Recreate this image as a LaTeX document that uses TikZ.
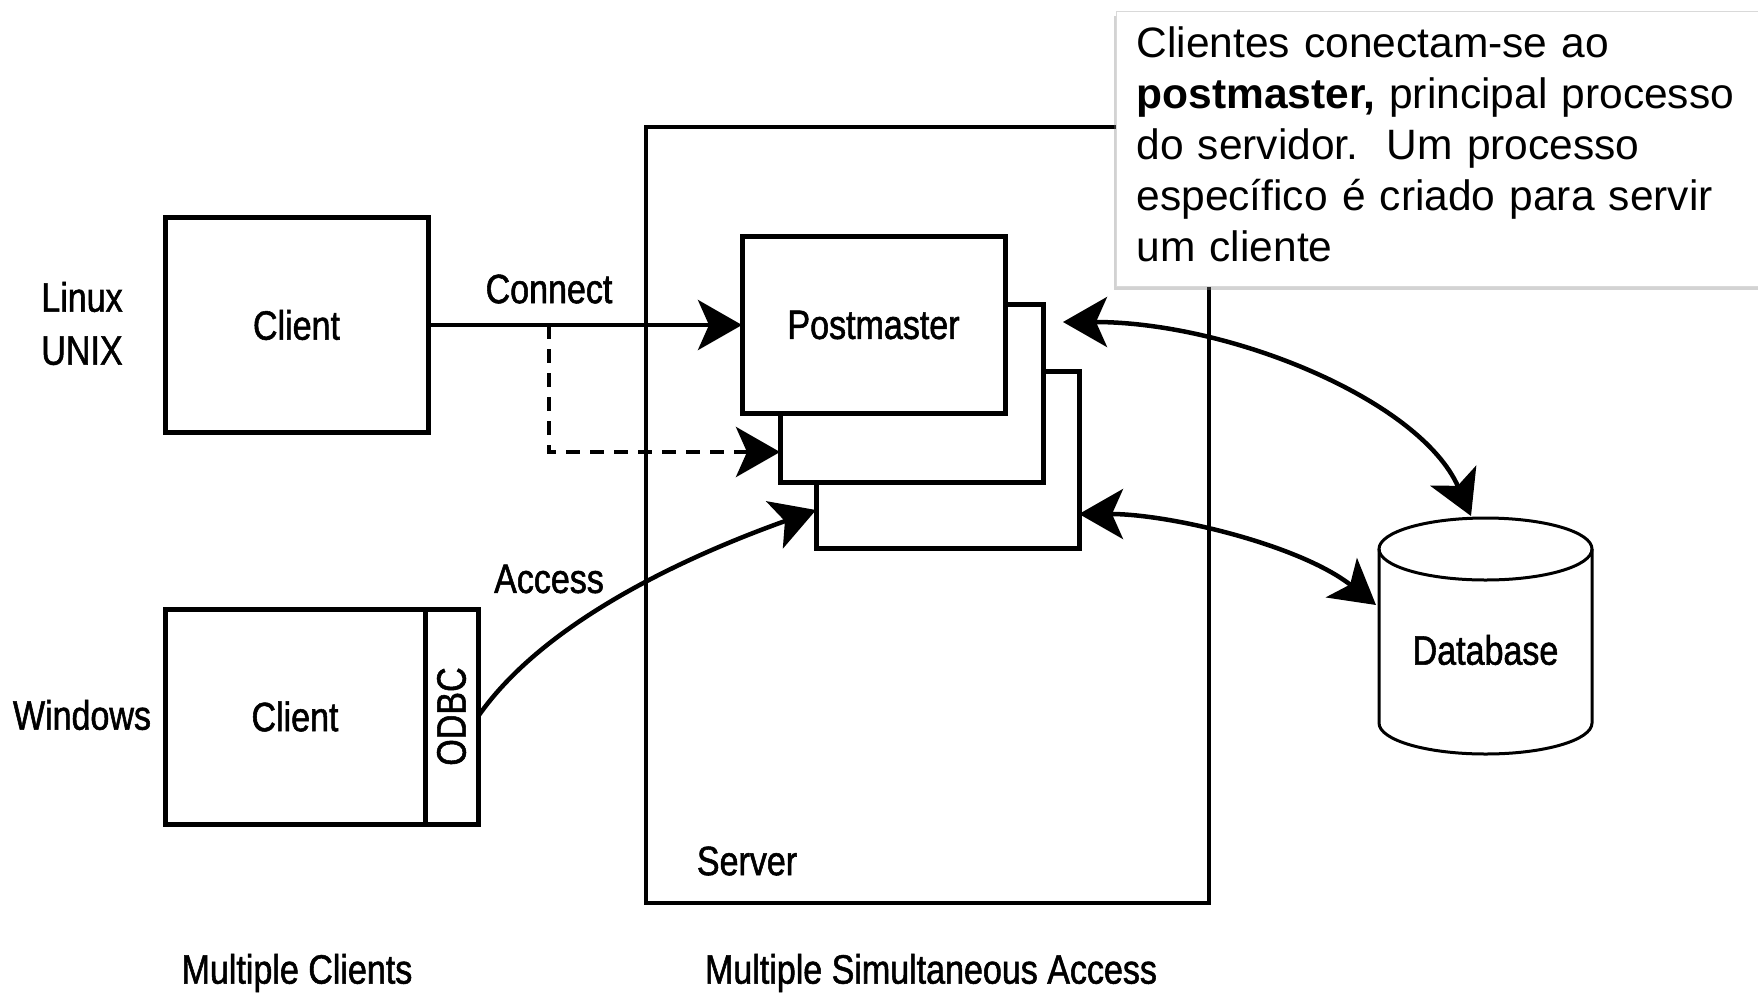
\documentclass[tikz,border=0pt]{standalone}
\usepackage{fontspec}
\setmainfont{Liberation Sans}
\newfontfamily\figfont[FakeStretch=0.83,FakeBold=1.3]{Liberation Sans}
\usetikzlibrary{arrows.meta,positioning,shadows}

\tikzset{
  box/.style={draw, line width=5pt, fill=white, outer sep=0pt, inner sep=0pt,
    font=\figfont\fontsize{41}{49}\selectfont},
  lbl/.style={inner sep=0pt, align=center, font=\figfont\fontsize{41}{53}\selectfont},
  tip/.style={-{Stealth[length=44pt,width=50pt,inset=11pt]}},
  arr/.style={line width=4.5pt, tip},
  dbl/.style={line width=4.5pt, {Stealth[length=44pt,width=50pt,inset=11pt]}-{Stealth[length=44pt,width=50pt,inset=11pt]}},
  dbline/.style={line width=3pt},
}

\begin{document}
\begin{tikzpicture}[x=1pt,y=1pt,yscale=-1,xscale=1]
\useasboundingbox (0,0) rectangle (1758,994);

%Shape: Rectangle [server]
\node[box, line width=4.5pt, minimum width=563pt, minimum height=776pt] (server) at (927.5,515) {};
% Text Node
\node[lbl] (srvlbl) at (747,861) {Server};

%Shape: Rectangle [process stack]
\node[box, minimum width=263pt, minimum height=177pt] (pm3) at (947.5,459.5) {};
\node[box, minimum width=263pt, minimum height=178pt] (pm2) at (911.5,393) {};
\node[box, minimum width=263pt, minimum height=177pt] (pm) at (873.5,325) {Postmaster};

%Shape: Rectangle [clients]
\node[box, minimum width=263pt, minimum height=215pt] (client1) at (296.5,325) {Client};
\node[box, minimum width=260pt, minimum height=215pt] (client2) at (295,716.5) {Client};
\node[box, minimum width=53pt, minimum height=215pt, right=0pt of client2] (odbc) {\rotatebox{90}{ODBC}};

% Text Node
\node[lbl] (os1) at (82,323.5) {Linux\\UNIX};
% Text Node
\node[lbl] (os2) at (82,715) {Windows};
% Text Node
\node[lbl] (conn) at (549,289) {Connect};
% Text Node
\node[lbl] (acc) at (549,579) {Access};

%Shape: Can [database]
\draw[dbline, fill=white] (1379,549) -- (1379,723) arc[start angle=180, end angle=0, x radius=106.5, y radius=31] -- (1592,549);
\draw[dbline] (1485.5,549) ellipse [x radius=106.5, y radius=31];
\node[lbl] (db) at (1485.5,650) {Database};
\coordinate (dbtop) at (1471,516);
\coordinate (dbside) at (1376,605);

%Connectors
\coordinate (split) at (549,325);
\draw[arr] (client1) -- (pm);
\draw[arr, dash pattern=on 14pt off 10pt] (split) |- (pm2.west |- 0,452);
\draw[arr] (odbc.east) .. controls (545,620) and (690,555) .. (pm3.west |- 0,510);
\draw[dbl, shorten <=20pt] (pm2.east |- 0,322) .. controls (1230,322) and (1420,400) .. (dbtop);
\draw[dbl] (pm3.east |- 0,514) .. controls (1170,514) and (1300,545) .. (dbside);

% Text Node
\node[lbl] (mc) at (297,973) {Multiple Clients};
% Text Node
\node[lbl] (msa) at (931,973) {Multiple Simultaneous Access};

%Callout
\node[anchor=north west, draw=gray!30, line width=1pt, fill=white,
  drop shadow={shadow xshift=-3pt, shadow yshift=-4pt, opacity=0.35},
  text width=650pt, inner xsep=20pt, inner ysep=15pt, text depth=214pt, align=left,
  font=\fontsize{42.5}{51}\selectfont] (note) at (1116,11)
  {Clientes conectam-se ao\\\textbf{postmaster,} principal processo\\do servidor.\ \ Um processo\\específico é criado para servir\\um cliente};

\end{tikzpicture}
\end{document}
